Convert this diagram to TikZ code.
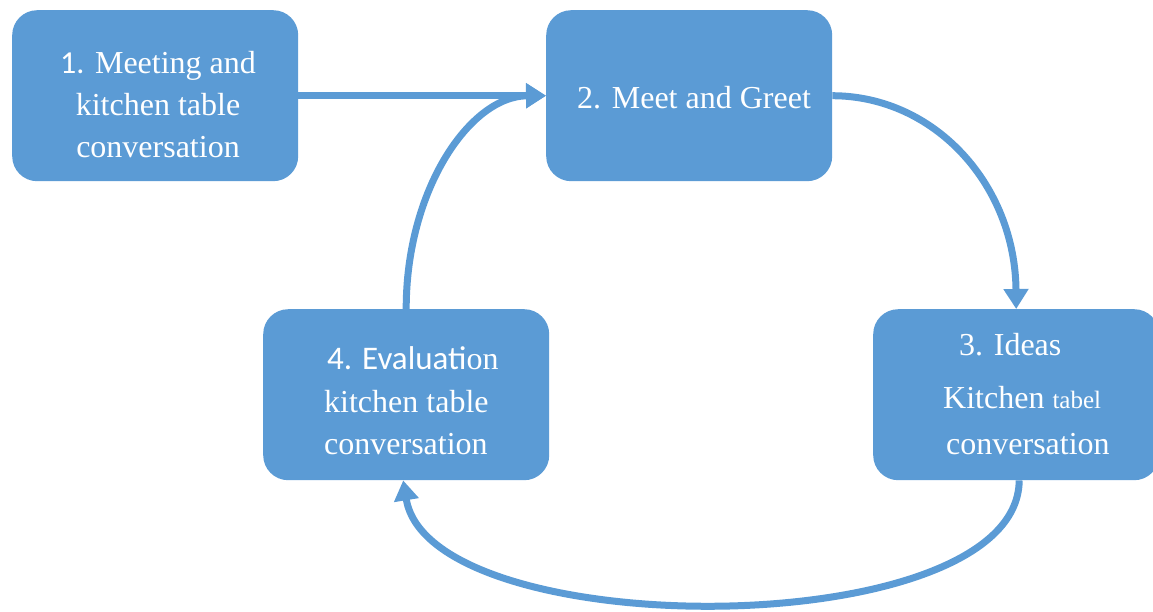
\documentclass[tikz,border=0pt]{standalone}
\usepackage{fontspec}
\setmainfont{Liberation Serif}
\newfontfamily\carl{Carlito}
\usetikzlibrary{arrows.meta}
\definecolor{boxblue}{HTML}{5B9BD5}
\tikzset{
  box/.style={fill=boxblue, draw=none, rounded corners=25pt, minimum width=286pt, minimum height=171pt, inner sep=0pt, anchor=north west},
  txt/.style={text=white, inner sep=0pt, font=\fontsize{32}{42}\selectfont},
  conn/.style={draw=boxblue, line width=7pt, -{Triangle[length=20pt,width=24pt]}},
}
\begin{document}
\begin{tikzpicture}[x=1pt,y=-1pt]
\useasboundingbox (0,0) rectangle (1153,611);
\clip (0,0) rectangle (1153,611);
\node[box] (b1) at (12,10) {};
\node[box] (b2) at (546,10) {};
\node[box] (b4) at (263,309) {};
\node[box] (b3) at (873,309) {};
% texts
\node[txt, anchor=base] (t1a) at (158,73) {{\carl 1.} Meeting and};
\node[txt, anchor=base] (t1b) at (158,115) {kitchen table};
\node[txt, anchor=base] (t1c) at (158,157) {conversation};
\node[txt, anchor=base west] (t2) at (577,108) {2. Meet and Greet};
\node[txt, anchor=base west] (t4a) at (327,369) {{\carl\fontsize{33}{42}\selectfont 4. Evaluati}on};
\node[txt, anchor=base west] (t4b) at (324,412) {kitchen table};
\node[txt, anchor=base west] (t4c) at (324,454) {conversation};
\node[txt, anchor=base west] (t3a) at (959,355) {3. Ideas};
\node[txt, anchor=base west] (t3b) at (943,408) {Kitchen {\fontsize{25}{30}\selectfont tabel}};
\node[txt, anchor=base west] (t3c) at (946,454) {conversation};
% connectors
\draw[conn] (b2.east) .. controls (935,96) and (1015,185) .. (b3.north);
\draw[conn] ([xshift=3pt]b3.south) .. controls (1018,645) and (430,645) .. ([xshift=-3pt]b4.south);
\draw[conn] (b4.north) .. controls (406,190) and (470,96) .. (b2.west);
\draw[conn] (b1.east) -- (b2.west);
\end{tikzpicture}
\end{document}
